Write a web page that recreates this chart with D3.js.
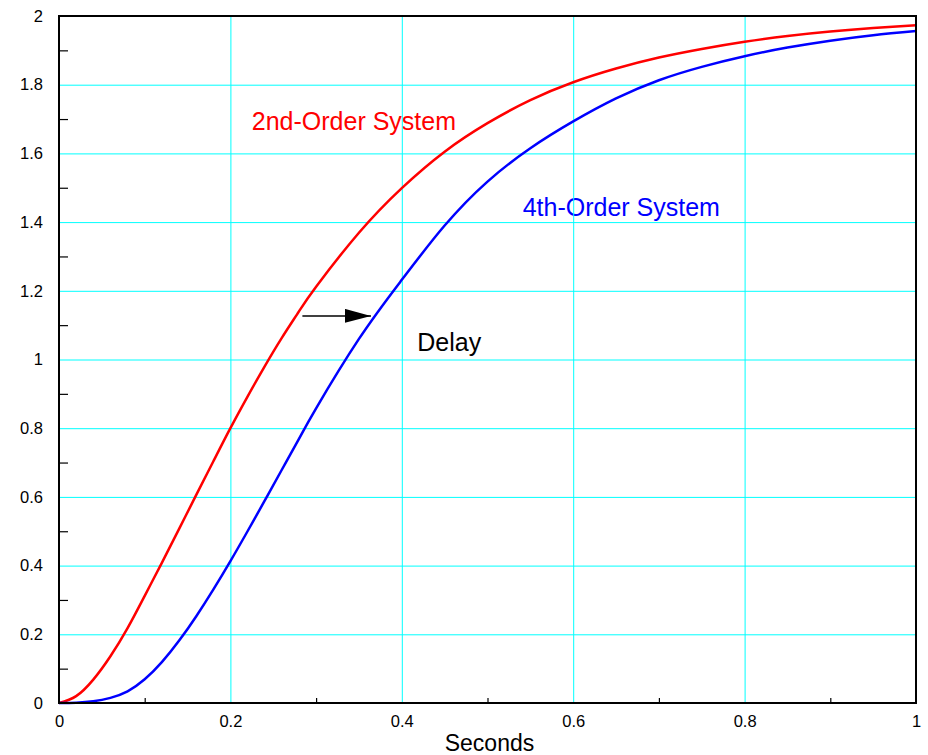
<!DOCTYPE html>
<meta charset="utf-8">
<head>
  <script src="https://cdn.jsdelivr.net/npm/d3@7"></script>
  <style>
    body { margin: 0; background: #fff; }
    text { font-family: "Liberation Sans", Arial, Helvetica, sans-serif; }
  </style>
</head>
<body>
  <div id="my_dataviz"></div>
</body>
<script>
  // time axis (seconds) shared by both responses
  var times = [0, 0.02, 0.04, 0.06, 0.08, 0.1, 0.12, 0.14, 0.16, 0.18, 0.2, 0.22, 0.24, 0.26, 0.28, 0.3,
    0.35, 0.4, 0.45, 0.5, 0.55, 0.6, 0.65, 0.7, 0.75, 0.8, 0.85, 0.9, 0.95, 1];
  var secondOrder = [0, 0.02, 0.068, 0.136, 0.218, 0.312, 0.408, 0.506, 0.605, 0.703, 0.8, 0.892, 0.98, 1.063, 1.14, 1.212,
    1.369, 1.499, 1.605, 1.688, 1.755, 1.807, 1.847, 1.879, 1.904, 1.925, 1.942, 1.955, 1.965, 1.973];
  var fourthOrder = [0, 0.001, 0.005, 0.015, 0.034, 0.069, 0.119, 0.181, 0.252, 0.33, 0.413, 0.5, 0.589, 0.679, 0.769, 0.858,
    1.06, 1.232, 1.39, 1.518, 1.615, 1.693, 1.76, 1.813, 1.852, 1.883, 1.908, 1.928, 1.944, 1.956];

  var xTicks = [0, 0.2, 0.4, 0.6, 0.8, 1];
  var xMinor = [0.1, 0.3, 0.5, 0.7, 0.9];
  var yTicks = [0, 0.2, 0.4, 0.6, 0.8, 1, 1.2, 1.4, 1.6, 1.8, 2];
  var yMinor = [0.1, 0.3, 0.5, 0.7, 0.9, 1.1, 1.3, 1.5, 1.7, 1.9];

  // annotations in data units
  var labels = [
    { text: "2nd-Order System", t: 0.225, v: 1.668, color: "red" },
    { text: "4th-Order System", t: 0.541, v: 1.418, color: "blue" },
    { text: "Delay", t: 0.418, v: 1.025, color: "black" }
  ];
  var delayArrow = { t0: 0.284, t1: 0.364, v: 1.127 };

  var margin = { top: 16, right: 12, bottom: 52, left: 59 },
    width = 928 - margin.left - margin.right,
    height = 755 - margin.top - margin.bottom;

  var svg = d3.select("#my_dataviz")
    .append("svg")
    .attr("width", 928)
    .attr("height", 755)
    .append("g")
    .attr("transform", "translate(" + margin.left + "," + margin.top + ")");

  var x = d3.scaleLinear().domain([0, 1]).range([0, width]);
  var y = d3.scaleLinear().domain([0, 2]).range([height, 0]);

  // annotation text (grid is drawn on top of it, like the original)
  svg.selectAll("text.note")
    .data(labels)
    .enter()
    .append("text")
    .attr("class", "note")
    .attr("x", function (d) { return x(d.t); })
    .attr("y", function (d) { return y(d.v); })
    .attr("fill", function (d) { return d.color; })
    .style("font-size", "25px")
    .text(function (d) { return d.text; });

  // grid
  svg.append("g")
    .attr("transform", "translate(0," + height + ")")
    .call(d3.axisBottom(x).tickValues(xTicks.slice(1, -1)).tickSize(-height).tickFormat(""))
    .call(function (g) { g.select(".domain").remove(); })
    .selectAll("line").attr("stroke", "#00ffff").attr("stroke-width", 1);
  svg.append("g")
    .call(d3.axisLeft(y).tickValues(yTicks.slice(1, -1)).tickSize(-width).tickFormat(""))
    .call(function (g) { g.select(".domain").remove(); })
    .selectAll("line").attr("stroke", "#00ffff").attr("stroke-width", 1);

  // minor ticks, pointing inward
  svg.append("g")
    .attr("transform", "translate(0," + height + ")")
    .call(d3.axisBottom(x).tickValues(xMinor).tickSize(-5).tickFormat(""))
    .call(function (g) { g.select(".domain").remove(); })
    .selectAll("line").attr("stroke", "#000").attr("stroke-width", 1.2);
  svg.append("g")
    .call(d3.axisLeft(y).tickValues(yMinor).tickSize(-9).tickFormat(""))
    .call(function (g) { g.select(".domain").remove(); })
    .selectAll("line").attr("stroke", "#000").attr("stroke-width", 1.2);

  // tick labels
  var xAxis = svg.append("g")
    .attr("transform", "translate(0," + height + ")")
    .call(d3.axisBottom(x).tickValues(xTicks).tickSize(0).tickPadding(12).tickFormat(d3.format("")));
  xAxis.select(".domain").remove();
  xAxis.selectAll("text").style("font-size", "16.5px").attr("fill", "#000");

  var yAxis = svg.append("g")
    .call(d3.axisLeft(y).tickValues(yTicks).tickSize(0).tickPadding(16).tickFormat(d3.format("")));
  yAxis.select(".domain").remove();
  yAxis.selectAll("text").style("font-size", "16.5px").attr("fill", "#000");

  svg.append("text")
    .attr("x", x(0.5) + 2)
    .attr("y", height + 48)
    .attr("text-anchor", "middle")
    .style("font-size", "23px")
    .text("Seconds");

  // step responses
  var line = d3.line()
    .x(function (d) { return x(d[0]); })
    .y(function (d) { return y(d[1]); })
    .curve(d3.curveNatural);

  svg.append("path")
    .datum(d3.zip(times, secondOrder))
    .attr("fill", "none")
    .attr("stroke", "#ff0000")
    .attr("stroke-width", 2.5)
    .attr("d", line);

  svg.append("path")
    .datum(d3.zip(times, fourthOrder))
    .attr("fill", "none")
    .attr("stroke", "#0000ff")
    .attr("stroke-width", 2.5)
    .attr("d", line);

  // frame
  svg.append("rect")
    .attr("x", x(0))
    .attr("y", y(2))
    .attr("width", x(1) - x(0))
    .attr("height", y(0) - y(2))
    .attr("fill", "none")
    .attr("stroke", "#000")
    .attr("stroke-width", 2);

  // delay arrow
  svg.append("defs").append("marker")
    .attr("id", "head")
    .attr("viewBox", "0 0 26 14")
    .attr("refX", 26)
    .attr("refY", 7)
    .attr("markerWidth", 26)
    .attr("markerHeight", 14)
    .attr("markerUnits", "userSpaceOnUse")
    .attr("orient", "auto")
    .append("path")
    .attr("d", "M0,0L26,7L0,14Z")
    .attr("fill", "#000");

  svg.append("line")
    .attr("x1", x(delayArrow.t0))
    .attr("y1", y(delayArrow.v))
    .attr("x2", x(delayArrow.t1))
    .attr("y2", y(delayArrow.v))
    .attr("stroke", "#000")
    .attr("stroke-width", 1.5)
    .attr("marker-end", "url(#head)");
</script>
